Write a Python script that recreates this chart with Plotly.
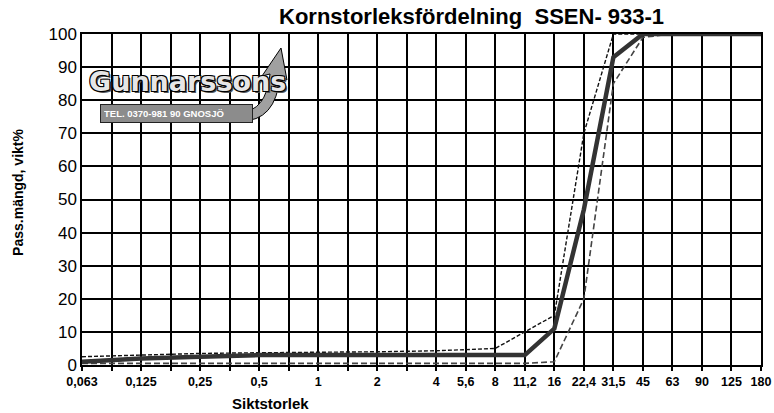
import plotly.graph_objects as go

# Sieve sizes (mm) on the axis, every grid line; blanks are unlabeled grid lines
sieves = ["0.063", "0.09", "0.125", "0.18", "0.25", "0.355", "0.5", "0.71", "1", "1.4",
          "2", "2.8", "4", "5.6", "8", "11.2", "16", "22.4", "31.5", "45", "63", "90", "125", "180"]
tick_labels = ["0,063", "", "0,125", "", "0,25", "", "0,5", "", "1", "", "2", "", "4", "5,6",
               "8", "11,2", "16", "22,4", "31,5", "45", "63", "90", "125", "180"]

# Measured sieves
measured = ["0.063", "0.125", "0.25", "0.5", "1", "2", "4", "5.6", "8", "11.2", "16",
            "22.4", "31.5", "45", "63", "90", "125", "180"]
passing = [1, 2, 2.5, 3, 3, 3, 3, 3, 3, 3, 11, 47, 93, 100, 100, 100, 100, 100]
upper_limit = [2.5, 3, 3.5, 3.7, 3.8, 4, 4.3, 4.6, 5, 10, 15, 70, 100, 100, 100, 100, 100, 100]
lower_limit = [0.5, 0.5, 0.5, 0.5, 0.5, 0.5, 0.5, 0.5, 0.5, 0.5, 1, 20, 85, 99, 100, 100, 100, 100]

y_ticks = [0, 10, 20, 30, 40, 50, 60, 70, 80, 90, 100]

W, H = 774, 413
ML, MR, MT, MB = 82, 13, 34, 48
PW, PH = W - ML - MR, H - MT - MB


def px(x, y):
    """pixel position -> paper coordinates (for the logo decoration only)"""
    return (x - ML) / PW, (H - MB - y) / PH


fig = go.Figure()
fig.add_trace(go.Scatter(x=measured, y=lower_limit, mode="lines",
                         line=dict(color="#444444", width=1.6, dash="6px,3px"), showlegend=False))
fig.add_trace(go.Scatter(x=measured, y=upper_limit, mode="lines",
                         line=dict(color="#111111", width=1.4, dash="4px,2px"), showlegend=False))
fig.add_trace(go.Scatter(x=measured, y=passing, mode="lines",
                         line=dict(color="#333333", width=4.5), showlegend=False))

# logo arrow path
pts = [(240, 112), (266, 112), (270, 74), (262, 76), (281, 48), (287, 80), (280, 76), (276, 122), (240, 121)]
p = [px(*q) for q in pts]
path = (f"M {p[0][0]:.4f} {p[0][1]:.4f} Q {p[1][0]:.4f} {p[1][1]:.4f} {p[2][0]:.4f} {p[2][1]:.4f} "
        f"L {p[3][0]:.4f} {p[3][1]:.4f} L {p[4][0]:.4f} {p[4][1]:.4f} L {p[5][0]:.4f} {p[5][1]:.4f} "
        f"L {p[6][0]:.4f} {p[6][1]:.4f} Q {p[7][0]:.4f} {p[7][1]:.4f} {p[8][0]:.4f} {p[8][1]:.4f} Z")

gx, gy = px(87, 81)
bx, by = px(100, 113)

font = "Liberation Sans, Arial, sans-serif"
fig.update_layout(
    width=W, height=H,
    margin=dict(l=ML, r=MR, t=MT, b=MB),
    paper_bgcolor="white", plot_bgcolor="white",
    font=dict(family=font, color="black"),
    xaxis=dict(type="category", categoryorder="array", categoryarray=sieves,
               range=[0, 23], tickmode="array", tickvals=sieves, ticktext=tick_labels,
               tickangle=0, automargin=False,
               showgrid=True, gridcolor="black", gridwidth=1.5,
               showline=True, linecolor="black", linewidth=1.5, mirror=True,
               ticks="outside", ticklen=4, tickcolor="black", tickwidth=1.5,
               tickfont=dict(size=12.5, family=font, weight="bold"), zeroline=False),
    yaxis=dict(range=[0, 100], tickvals=y_ticks, automargin=False,
               showgrid=True, gridcolor="black", gridwidth=1.5,
               showline=True, linecolor="black", linewidth=1.5, mirror=True,
               ticks="", tickfont=dict(size=17, family=font), zeroline=False),
    shapes=[
        dict(type="path", xref="paper", yref="paper", path=path, layer="above",
             fillcolor="#a0a0a0", line=dict(color="black", width=1)),
    ],
    annotations=[
        dict(text="<b>Kornstorleksfördelning  SSEN- 933-1</b>", x=0.573, y=1.0, xref="paper",
             yref="paper", yshift=18, xanchor="center", yanchor="middle", showarrow=False,
             font=dict(size=22, family=font)),
        dict(text="<b>Siktstorlek</b>", x=0.277, y=0, xref="paper", yref="paper",
             yshift=-38, xanchor="center", yanchor="middle", showarrow=False,
             font=dict(size=15, family=font)),
        dict(text="<b>Pass.mängd, vikt%</b>", x=0, y=0.52, xref="paper", yref="paper",
             xshift=-64, xanchor="center", yanchor="middle", showarrow=False, textangle=-90,
             font=dict(size=14, family=font)),
        dict(text="<b>TEL. 0370-981 90 GNOSJÖ</b>", x=bx, y=by, xref="paper", yref="paper",
             xanchor="left", yanchor="middle", showarrow=False, bgcolor="#8c8c8c", bordercolor="#222",
             borderwidth=1, borderpad=3, width=145, align="left",
             font=dict(size=9.5, family=font, color="white")),
        dict(text="<b>Gunnarssons</b>", x=gx, y=gy, xref="paper", yref="paper",
             xanchor="left", yanchor="middle", showarrow=False,
             font=dict(size=27, family="DejaVu Sans, sans-serif", color="#e6e6e6",
                       shadow="1px 1px 0 #000, -1px -1px 0 #000, 1px -1px 0 #000, -1px 1px 0 #000, 2px 2px 0 #555")),
    ],
)

fig.write_html("out.html", config={"displayModeBar": False},
               post_script="document.body.style.margin='0';document.body.style.overflow='hidden';")
